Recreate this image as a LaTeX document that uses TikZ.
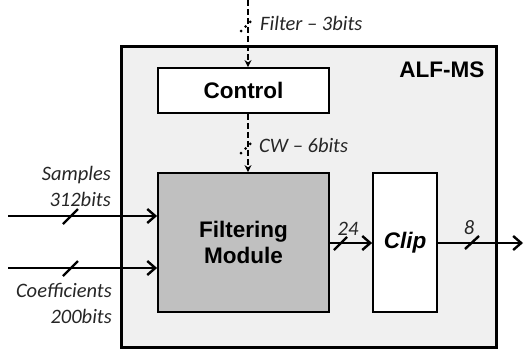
\documentclass[tikz,border=0pt]{standalone}
\usepackage{fontspec}
\setmainfont{Carlito}
\newfontfamily\arialf{Liberation Sans}
\usetikzlibrary{arrows.meta}
\definecolor{outerfill}{HTML}{F0F0F0}
\definecolor{modfill}{HTML}{C0C0C0}
\definecolor{txtgray}{HTML}{262626}
\tikzset{
  blk/.style={draw=black, line width=1.8pt, inner sep=0pt},
  bus/.style={line width=2.6pt, -{Straight Barb[length=8pt,width=14pt,line width=2.4pt]}},
  ctl/.style={line width=2.2pt, dash pattern=on 6pt off 3pt, -{Stealth[length=7pt,width=7pt]}},
  slashmark/.style={line width=2.4pt},
  dotslash/.style={line width=3pt, line cap=round, dash pattern=on 0pt off 6.5pt},
  lbl/.style={font=\fontsize{20.5}{24}\selectfont\itshape, text=txtgray, inner sep=0pt},
  boldlbl/.style={font=\arialf\fontsize{22.5}{26}\selectfont\bfseries, align=center}
}
\begin{document}
\begin{tikzpicture}[x=1pt,y=-1pt]
\useasboundingbox (0,0) rectangle (525,351);
% outer box
\draw[fill=outerfill, line width=3pt] (121,46) rectangle (496,347);
\node[boldlbl, anchor=east] (alf) at (488,70) {ALF-MS};
% blocks
\node[blk, fill=white, minimum width=171pt, minimum height=45pt, boldlbl] (ctrl) at (243.5,90.5) {Control};
\node[blk, fill=modfill, minimum width=171pt, minimum height=139pt, boldlbl] (filt) at (243.5,242.5) {Filtering\\Module};
\node[blk, fill=white, minimum width=64pt, minimum height=139pt, boldlbl, font=\arialf\fontsize{22.5}{26}\selectfont\bfseries\itshape] (clip) at (405,242.5) {Clip};
% coordinates for free ends
\coordinate (ftop) at (248,0);
\coordinate (sin) at (8,216);
\coordinate (cin) at (8,268);
\coordinate (out) at (523,243);
% control arrows
\draw[ctl] (ftop) -- (ctrl.north -| ftop);
\draw[ctl] (ctrl.south -| ftop) -- (filt.north -| ftop);
\draw[dotslash] (241,31) -- (254,18);
\draw[dotslash] (241,153) -- (254,140);
\node[lbl, anchor=west] (flab) at (260,23) {Filter – 3bits};
\node[lbl, anchor=west] (cwlab) at (259,145) {CW – 6bits};
% inputs
\draw[bus] (sin) -- (sin -| filt.west);
\draw[bus] (cin) -- (cin -| filt.west);
\draw[slashmark] (63,224) -- (78,209);
\draw[slashmark] (63,276) -- (78,261);
\node[lbl, anchor=east] (s1) at (111,175) {Samples};
\node[lbl, anchor=east] (s2) at (111,199) {312bits};
\node[lbl, anchor=east] (c1) at (112,290) {Coefficients};
\node[lbl, anchor=east] (c2) at (112,316) {200bits};
% internal and output
\draw[bus] (filt.east |- out) -- (clip.west |- out);
\draw[slashmark] (334,250) -- (347,237);
\node[lbl] (n24) at (348,229) {24};
\draw[bus] (clip.east |- out) -- (out);
\draw[slashmark] (465,249) -- (479,236);
\node[lbl] (n8) at (469,228) {8};
\end{tikzpicture}
\end{document}
